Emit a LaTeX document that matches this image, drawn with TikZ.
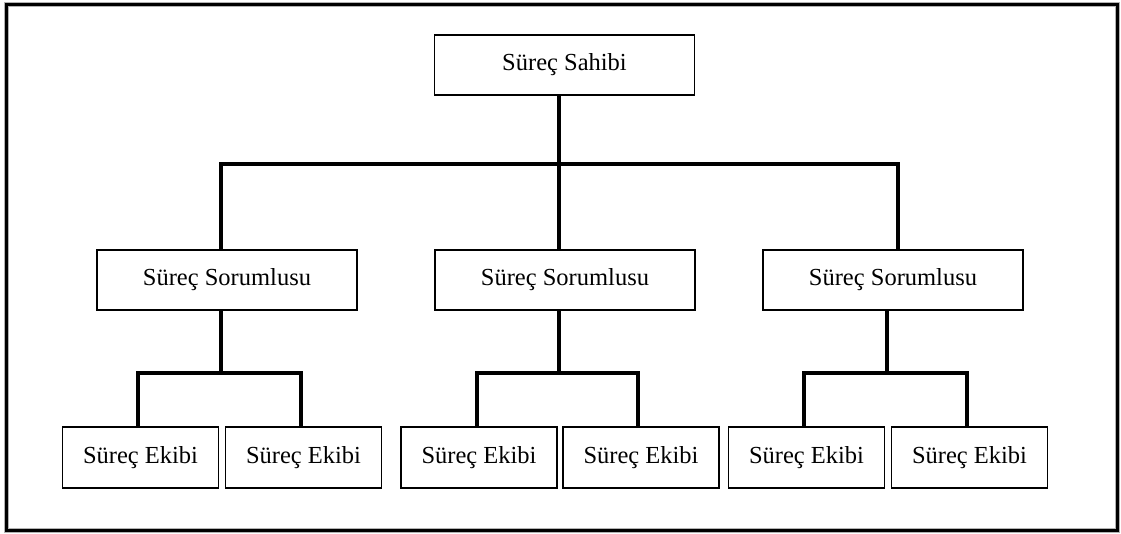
\documentclass[tikz,border=0pt]{standalone}
\usepackage{fontspec}
\setmainfont{Liberation Serif}
\begin{document}
\begin{tikzpicture}[x=1pt,y=-1pt,
  box/.style={draw=black,line width=1.6pt,fill=white,inner sep=0pt,
    font=\fontsize{24.5}{28}\selectfont},
  wbox/.style={box,minimum width=260pt,minimum height=60pt},
  ebox/.style={box,minimum width=156pt,minimum height=61pt},
  conn/.style={draw=black,line width=3.6pt,line join=miter,line cap=butt},
  frame/.style={draw=black,line width=3pt}]
\useasboundingbox (0,0) rectangle (1121,534);
\fill[white] (0,0) rectangle (1121,534);
\draw[draw=black!30,line width=5pt] (6.5,4.5) rectangle (1117,530);
\draw[frame] (6.5,4.5) rectangle (1117,530);

% nodes
\node[wbox] (sahibi) at (564.5,65) {\raisebox{-2pt}{Süreç Sahibi}};
\node[wbox] (sorL) at (227,280) {\raisebox{-2pt}{Süreç Sorumlusu}};
\node[wbox] (sorM) at (565,280) {\raisebox{-2pt}{Süreç Sorumlusu}};
\node[wbox] (sorR) at (893,280) {\raisebox{-2pt}{Süreç Sorumlusu}};
\node[ebox] (e1) at (140.5,457.5) {\raisebox{-2pt}{Süreç Ekibi}};
\node[ebox] (e2) at (303.5,457.5) {\raisebox{-2pt}{Süreç Ekibi}};
\node[ebox] (e3) at (479,457.5) {\raisebox{-2pt}{Süreç Ekibi}};
\node[ebox] (e4) at (641,457.5) {\raisebox{-2pt}{Süreç Ekibi}};
\node[ebox] (e5) at (806.5,457.5) {\raisebox{-2pt}{Süreç Ekibi}};
\node[ebox] (e6) at (969.5,457.5) {\raisebox{-2pt}{Süreç Ekibi}};

% junction coordinates
\coordinate (tl) at (221,164);
\coordinate (tm) at (559,164);
\coordinate (tr) at (898,164);
\coordinate (bl) at (221,373);
\coordinate (bm) at (559,373);
\coordinate (br) at (887,373);
\coordinate (b1) at (138,373);
\coordinate (b2) at (301,373);
\coordinate (b3) at (477,373);
\coordinate (b4) at (638,373);
\coordinate (b5) at (804,373);
\coordinate (b6) at (967,373);

% connectors
\draw[conn] (sahibi.south -| tm) -- (tm);
\draw[conn] (sorL.north -| tl) -- (tl) -- (tr) -- (sorR.north -| tr);
\draw[conn] (tm) -- (sorM.north -| tm);

\draw[conn] (sorL.south -| bl) -- (bl);
\draw[conn] (e1.north -| b1) -- (b1) -- (b2) -- (e2.north -| b2);
\draw[conn] (sorM.south -| bm) -- (bm);
\draw[conn] (e3.north -| b3) -- (b3) -- (b4) -- (e4.north -| b4);
\draw[conn] (sorR.south -| br) -- (br);
\draw[conn] (e5.north -| b5) -- (b5) -- (b6) -- (e6.north -| b6);
\end{tikzpicture}
\end{document}
